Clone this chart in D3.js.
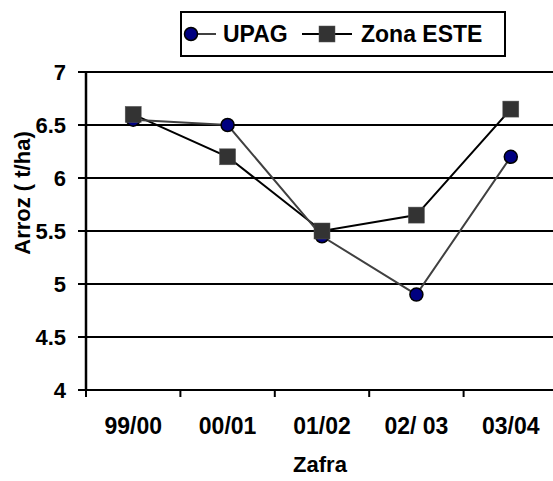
<!DOCTYPE html>
<html>
<head>
<meta charset="utf-8">
<script src="https://cdn.jsdelivr.net/npm/d3@7"></script>
<style>
  body { margin: 0; background: #fff; }
  svg text { font-family: "Liberation Sans", Arial, sans-serif; font-weight: bold; fill: #000; }
</style>
</head>
<body>
<div id="chart"></div>
<script>
// data
var zafras = ["99/00", "00/01", "01/02", "02/ 03", "03/04"];
var upag = [6.55, 6.5, 5.45, 4.9, 6.2];
var zonaEste = [6.6, 6.2, 5.5, 5.65, 6.65];
var yTicks = [4, 4.5, 5, 5.5, 6, 6.5, 7];

var width = 553, height = 481;
var plot = { left: 86, right: 558, top: 72, bottom: 390 };

var svg = d3.select("#chart").append("svg")
    .attr("width", width)
    .attr("height", height);

var x = d3.scaleBand()
    .domain(zafras)
    .range([plot.left, plot.right]);

var y = d3.scaleLinear()
    .domain([4, 7])
    .range([plot.bottom, plot.top]);

// grid lines
svg.append("g")
    .selectAll("line")
    .data(yTicks)
    .enter().append("line")
    .attr("x1", plot.left - 8)
    .attr("x2", width)
    .attr("y1", function (d) { return y(d); })
    .attr("y2", function (d) { return y(d); })
    .style("stroke", "#000")
    .style("stroke-width", 2);

// y axis line
svg.append("line")
    .attr("x1", plot.left).attr("x2", plot.left)
    .attr("y1", plot.top).attr("y2", plot.bottom)
    .style("stroke", "#000").style("stroke-width", 2.5);

// y tick labels
svg.append("g")
    .selectAll("text")
    .data(yTicks)
    .enter().append("text")
    .attr("x", 66)
    .attr("y", function (d) { return y(d) + 8; })
    .attr("text-anchor", "end")
    .style("font-size", "22px")
    .text(function (d) { return d; });

// x ticks (category boundaries)
var bounds = zafras.map(function (d) { return x(d); }).concat([plot.right]);
svg.append("g")
    .selectAll("line")
    .data(bounds)
    .enter().append("line")
    .attr("x1", function (d) { return d; })
    .attr("x2", function (d) { return d; })
    .attr("y1", plot.bottom)
    .attr("y2", plot.bottom + 7)
    .style("stroke", "#000").style("stroke-width", 2);

svg.append("g")
    .selectAll("text")
    .data(zafras)
    .enter().append("text")
    .attr("x", function (d) { return x(d) + x.bandwidth() / 2; })
    .attr("y", 434)
    .attr("text-anchor", "middle")
    .style("font-size", "23px")
    .text(function (d) { return d; });

// axis titles
svg.append("text")
    .attr("x", 320).attr("y", 472)
    .attr("text-anchor", "middle")
    .style("font-size", "22px")
    .text("Zafra");

svg.append("text")
    .attr("transform", "translate(30,193) rotate(-90)")
    .attr("text-anchor", "middle")
    .style("font-size", "22px")
    .text("Arroz ( t/ha)");

var cx = function (d, i) { return x(zafras[i]) + x.bandwidth() / 2; };

var line = d3.line()
    .x(function (d, i) { return cx(d, i); })
    .y(function (d) { return y(d); });

// Zona ESTE series
svg.append("path")
    .datum(zonaEste)
    .attr("d", line)
    .style("fill", "none")
    .style("stroke", "#000")
    .style("stroke-width", 2);

// UPAG series
svg.append("path")
    .datum(upag)
    .attr("d", line)
    .style("fill", "none")
    .style("stroke", "#404040")
    .style("stroke-width", 2);

svg.append("g")
    .selectAll("circle")
    .data(upag)
    .enter().append("circle")
    .attr("cx", cx)
    .attr("cy", function (d) { return y(d); })
    .attr("r", 6.5)
    .style("fill", "#000080")
    .style("stroke", "#000")
    .style("stroke-width", 1.5);

svg.append("g")
    .selectAll("rect")
    .data(zonaEste)
    .enter().append("rect")
    .attr("x", function (d, i) { return cx(d, i) - 8; })
    .attr("y", function (d) { return y(d) - 8; })
    .attr("width", 16)
    .attr("height", 16)
    .style("fill", "#333")
    .style("stroke", "#555")
    .style("stroke-width", 0.5);

// legend
var legend = svg.append("g").attr("class", "legend");
legend.append("rect")
    .attr("x", 181).attr("y", 12)
    .attr("width", 324).attr("height", 44)
    .style("fill", "#fff")
    .style("stroke", "#000")
    .style("stroke-width", 2);

legend.append("line")
    .attr("x1", 184).attr("x2", 216).attr("y1", 34).attr("y2", 34)
    .style("stroke", "#404040").style("stroke-width", 2);
legend.append("circle")
    .attr("cx", 191).attr("cy", 34).attr("r", 6.5)
    .style("fill", "#000080").style("stroke", "#000").style("stroke-width", 1.5);
legend.append("text")
    .attr("x", 223).attr("y", 42)
    .style("font-size", "23px")
    .text("UPAG");

legend.append("line")
    .attr("x1", 302).attr("x2", 352).attr("y1", 34).attr("y2", 34)
    .style("stroke", "#000").style("stroke-width", 2);
legend.append("rect")
    .attr("x", 319).attr("y", 26).attr("width", 16).attr("height", 16)
    .style("fill", "#333").style("stroke", "#555").style("stroke-width", 0.5);
legend.append("text")
    .attr("x", 361).attr("y", 42)
    .style("font-size", "23px")
    .text("Zona ESTE");
</script>
</body>
</html>
